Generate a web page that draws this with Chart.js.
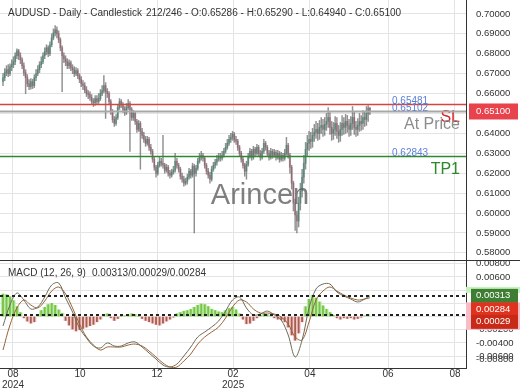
<!DOCTYPE html>
<html>
<head>
<meta charset="utf-8">
<script src="https://cdn.jsdelivr.net/npm/chart.js@4.4.1/dist/chart.umd.min.js"></script>
<style>
  html, body { margin: 0; padding: 0; background: #fff; }
  #wrap { position: relative; width: 520px; height: 390px; }
  #price { position: absolute; left: 0; top: 0; }
  #macd { position: absolute; left: 0; top: 261px; }
</style>
</head>
<body>
<div id="wrap">
  <canvas id="price" width="520" height="261"></canvas>
  <canvas id="macd" width="520" height="129"></canvas>
</div>
<script>
// daily AUDUSD candles
const opens = [
  0.6660,0.6680,0.6705,0.6720,0.6700,0.6735,0.6745,0.6760,0.6790,0.6815,
  0.6790,0.6770,0.6740,0.6705,0.6680,0.6650,0.6635,0.6660,0.6640,0.6680,
  0.6700,0.6720,0.6745,0.6760,0.6790,0.6810,0.6830,0.6800,0.6845,0.6880,
  0.6905,0.6920,0.6900,0.6870,0.6830,0.6790,0.6775,0.6760,0.6740,0.6755,
  0.6730,0.6720,0.6700,0.6715,0.6690,0.6670,0.6650,0.6640,0.6620,0.6600,
  0.6595,0.6580,0.6560,0.6555,0.6575,0.6560,0.6575,0.6600,0.6615,0.6640,
  0.6610,0.6600,0.6560,0.6510,0.6470,0.6450,0.6480,0.6530,0.6560,0.6545,
  0.6520,0.6505,0.6530,0.6550,0.6520,0.6480,0.6500,0.6460,0.6420,0.6450,
  0.6410,0.6390,0.6370,0.6350,0.6370,0.6330,0.6310,0.6270,0.6230,0.6200,
  0.6240,0.6260,0.6250,0.6240,0.6215,0.6230,0.6200,0.6190,0.6205,0.6215,
  0.6260,0.6240,0.6220,0.6185,0.6170,0.6150,0.6160,0.6180,0.6210,0.6190,
  0.6235,0.6200,0.6225,0.6260,0.6280,0.6290,0.6275,0.6240,0.6210,0.6190,
  0.6170,0.6220,0.6240,0.6255,0.6270,0.6285,0.6275,0.6290,0.6310,0.6330,
  0.6350,0.6370,0.6380,0.6395,0.6370,0.6360,0.6330,0.6300,0.6270,0.6240,
  0.6210,0.6245,0.6285,0.6310,0.6280,0.6320,0.6300,0.6330,0.6300,0.6280,
  0.6310,0.6350,0.6330,0.6300,0.6280,0.6310,0.6290,0.6305,0.6280,0.6300,
  0.6270,0.6290,0.6275,0.6300,0.6340,0.6290,0.6230,0.6150,0.6050,0.5990,
  0.5960,0.6050,0.6110,0.6180,0.6250,0.6320,0.6350,0.6370,0.6360,0.6390,
  0.6405,0.6420,0.6400,0.6430,0.6440,0.6420,0.6445,0.6460,0.6480,0.6430,
  0.6400,0.6420,0.6450,0.6410,0.6390,0.6420,0.6450,0.6430,0.6460,0.6440,
  0.6420,0.6450,0.6480,0.6430,0.6420,0.6440,0.6460,0.6450,0.6480,0.6470,
  0.6500,0.65286
];
const highs = [
  0.6700,0.6725,0.6740,0.6745,0.6750,0.6770,0.6785,0.6805,0.6825,0.6822,
  0.6805,0.6780,0.6755,0.6720,0.6695,0.6670,0.6675,0.6672,0.6695,0.6720,
  0.6740,0.6760,0.6785,0.6805,0.6830,0.6845,0.6840,0.6860,0.6900,0.6925,
  0.6942,0.6935,0.6915,0.6880,0.6840,0.6805,0.6790,0.6775,0.6770,0.6765,
  0.6745,0.6735,0.6730,0.6725,0.6700,0.6685,0.6665,0.6655,0.6635,0.6615,
  0.6610,0.6595,0.6575,0.6590,0.6590,0.6600,0.6620,0.6640,0.6690,0.6655,
  0.6625,0.6610,0.6570,0.6520,0.6485,0.6495,0.6545,0.6575,0.6570,0.6555,
  0.6535,0.6550,0.6570,0.6560,0.6530,0.6515,0.6510,0.6470,0.6465,0.6460,
  0.6425,0.6405,0.6385,0.6385,0.6380,0.6345,0.6320,0.6280,0.6240,0.6255,
  0.6280,0.6275,0.6390,0.6250,0.6245,0.6240,0.6215,0.6220,0.6235,0.6300,
  0.6275,0.6250,0.6230,0.6200,0.6185,0.6175,0.6195,0.6225,0.6220,0.6250,
  0.6245,0.6240,0.6275,0.6300,0.6310,0.6300,0.6285,0.6250,0.6225,0.6205,
  0.6235,0.6255,0.6270,0.6290,0.6300,0.6300,0.6310,0.6325,0.6350,0.6370,
  0.6390,0.6400,0.6410,0.6405,0.6385,0.6370,0.6340,0.6310,0.6280,0.6250,
  0.6260,0.6300,0.6325,0.6320,0.6335,0.6330,0.6345,0.6340,0.6315,0.6325,
  0.6370,0.6360,0.6340,0.6315,0.6325,0.6320,0.6320,0.6315,0.6315,0.6310,
  0.6305,0.6300,0.6320,0.6380,0.6350,0.6300,0.6240,0.6160,0.6070,0.6010,
  0.6080,0.6150,0.6220,0.6290,0.6355,0.6390,0.6410,0.6405,0.6425,0.6445,
  0.6460,0.6450,0.6465,0.6480,0.6470,0.6480,0.6500,0.6530,0.6505,0.6460,
  0.6455,0.6485,0.6480,0.6440,0.6455,0.6490,0.6480,0.6495,0.6490,0.6470,
  0.6485,0.6535,0.6510,0.6460,0.6475,0.6500,0.6490,0.6515,0.6510,0.6535,
  0.6540,0.65290
];
const lows = [
  0.6640,0.6665,0.6690,0.6685,0.6690,0.6715,0.6730,0.6745,0.6775,0.6770,
  0.6750,0.6725,0.6690,0.6600,0.6635,0.6620,0.6622,0.6625,0.6630,0.6665,
  0.6690,0.6705,0.6730,0.6750,0.6775,0.6795,0.6785,0.6790,0.6835,0.6870,
  0.6890,0.6880,0.6855,0.6815,0.6610,0.6755,0.6740,0.6725,0.6725,0.6715,
  0.6700,0.6685,0.6690,0.6675,0.6655,0.6635,0.6620,0.6605,0.6585,0.6575,
  0.6565,0.6545,0.6535,0.6540,0.6545,0.6550,0.6565,0.6590,0.6605,0.6475,
  0.6580,0.6545,0.6495,0.6455,0.6435,0.6440,0.6470,0.6520,0.6530,0.6505,
  0.6490,0.6495,0.6520,0.6310,0.6465,0.6465,0.6445,0.6405,0.6410,0.6220,
  0.6375,0.6355,0.6335,0.6340,0.6315,0.6295,0.6255,0.6215,0.6180,0.6190,
  0.6230,0.6235,0.6225,0.6200,0.6205,0.6185,0.6175,0.6180,0.6195,0.6205,
  0.6225,0.6205,0.6170,0.6155,0.6135,0.6140,0.6145,0.6170,0.6175,0.6180,
  0.5900,0.6185,0.6215,0.6250,0.6265,0.6260,0.6225,0.6195,0.6175,0.6150,
  0.6160,0.6210,0.6225,0.6240,0.6260,0.6260,0.6265,0.6280,0.6300,0.6320,
  0.6340,0.6355,0.6365,0.6355,0.6345,0.6315,0.6285,0.6255,0.6225,0.6185,
  0.6170,0.6235,0.6275,0.6265,0.6270,0.6285,0.6290,0.6285,0.6265,0.6270,
  0.6300,0.6315,0.6285,0.6265,0.6270,0.6275,0.6280,0.6265,0.6270,0.6255,
  0.6260,0.6260,0.6265,0.6290,0.6275,0.6200,0.6120,0.6010,0.5913,0.5900,
  0.5930,0.6015,0.6080,0.6150,0.6220,0.6285,0.6315,0.6325,0.6330,0.6360,
  0.6375,0.6365,0.6370,0.6400,0.6385,0.6390,0.6415,0.6430,0.6395,0.6365,
  0.6370,0.6390,0.6375,0.6355,0.6360,0.6390,0.6395,0.6400,0.6405,0.6385,
  0.6390,0.6420,0.6395,0.6385,0.6390,0.6410,0.6415,0.6420,0.6435,0.6440,
  0.6460,0.64940
];
const closes = [
  0.6680,0.6705,0.6720,0.6700,0.6735,0.6745,0.6760,0.6790,0.6815,0.6790,
  0.6770,0.6740,0.6705,0.6680,0.6650,0.6635,0.6660,0.6640,0.6680,0.6700,
  0.6720,0.6745,0.6760,0.6790,0.6810,0.6830,0.6800,0.6845,0.6880,0.6905,
  0.6920,0.6900,0.6870,0.6830,0.6790,0.6775,0.6760,0.6740,0.6755,0.6730,
  0.6720,0.6700,0.6715,0.6690,0.6670,0.6650,0.6640,0.6620,0.6600,0.6595,
  0.6580,0.6560,0.6555,0.6575,0.6560,0.6575,0.6600,0.6615,0.6640,0.6610,
  0.6600,0.6560,0.6510,0.6470,0.6450,0.6480,0.6530,0.6560,0.6545,0.6520,
  0.6505,0.6530,0.6550,0.6520,0.6480,0.6500,0.6460,0.6420,0.6450,0.6410,
  0.6390,0.6370,0.6350,0.6370,0.6330,0.6310,0.6270,0.6230,0.6200,0.6240,
  0.6260,0.6250,0.6240,0.6215,0.6230,0.6200,0.6190,0.6205,0.6215,0.6260,
  0.6240,0.6220,0.6185,0.6170,0.6150,0.6160,0.6180,0.6210,0.6190,0.6235,
  0.6200,0.6225,0.6260,0.6280,0.6290,0.6275,0.6240,0.6210,0.6190,0.6170,
  0.6220,0.6240,0.6255,0.6270,0.6285,0.6275,0.6290,0.6310,0.6330,0.6350,
  0.6370,0.6380,0.6395,0.6370,0.6360,0.6330,0.6300,0.6270,0.6240,0.6210,
  0.6245,0.6285,0.6310,0.6280,0.6320,0.6300,0.6330,0.6300,0.6280,0.6310,
  0.6350,0.6330,0.6300,0.6280,0.6310,0.6290,0.6305,0.6280,0.6300,0.6270,
  0.6290,0.6275,0.6300,0.6340,0.6290,0.6230,0.6150,0.6050,0.5990,0.5960,
  0.6050,0.6110,0.6180,0.6250,0.6320,0.6350,0.6370,0.6360,0.6390,0.6405,
  0.6420,0.6400,0.6430,0.6440,0.6420,0.6445,0.6460,0.6480,0.6430,0.6400,
  0.6420,0.6450,0.6410,0.6390,0.6420,0.6450,0.6430,0.6460,0.6440,0.6420,
  0.6450,0.6480,0.6430,0.6420,0.6440,0.6460,0.6450,0.6480,0.6470,0.6500,
  0.6525,0.65100
];

// MACD (12, 26, 9), one reading every 4th bar (last one is the final bar)
const macdLine = [
  -0.00144,0.00174,0.00356,0.00250,0.00114,0.00144,0.00295,0.00477,0.00508,0.00280,
  0.00068,-0.00174,-0.00326,-0.00447,-0.00477,-0.00400,-0.00447,-0.00447,-0.00400,-0.00386,
  -0.00462,-0.00553,-0.00644,-0.00735,-0.00765,-0.00720,-0.00598,-0.00462,-0.00310,-0.00235,
  -0.00159,-0.00068,0.00083,0.00250,0.00295,0.00129,0.00023,0.00038,0.00083,0.00023,
  -0.00053,-0.00280,-0.00614,-0.00356,0.00129,0.00417,0.00492,0.00492,0.00371,0.00311,
  0.00265,0.00220,0.00265,0.00313
];
const signalLine = [
  -0.00508,-0.00129,0.00129,0.00250,0.00174,0.00129,0.00235,0.00386,0.00447,0.00341,
  0.00129,-0.00114,-0.00310,-0.00432,-0.00508,-0.00462,-0.00462,-0.00462,-0.00432,-0.00417,
  -0.00447,-0.00523,-0.00614,-0.00705,-0.00765,-0.00765,-0.00674,-0.00568,-0.00417,-0.00310,
  -0.00235,-0.00159,-0.00023,0.00144,0.00250,0.00220,0.00114,0.00053,0.00053,0.00038,
  -0.00008,-0.00114,-0.00310,-0.00356,-0.00083,0.00250,0.00386,0.00447,0.00386,0.00326,
  0.00280,0.00250,0.00265,0.00284
];
// histogram, one reading every 2nd bar
const histogram = [
  0.0034,0.0033,0.0030,0.0024,0.0015,0.0006,-0.0002,-0.0007,-0.0010,-0.0008,
  0.0003,0.0009,0.0014,0.0018,0.0020,0.0017,0.0010,0.0005,-0.0006,-0.0013,
  -0.0019,-0.0022,-0.0020,-0.0018,-0.0016,-0.0014,-0.0012,-0.0008,-0.0004,0.0003,
  0.0004,-0.0002,-0.0006,-0.0003,0.0000,0.0001,0.0002,0.0004,0.0003,0.0000,
  -0.0003,-0.0006,-0.0008,-0.0010,-0.0012,-0.0013,-0.0010,-0.0007,-0.0004,-0.0001,
  0.0004,0.0006,0.0008,0.0009,0.0011,0.0014,0.0017,0.0019,0.0018,0.0015,
  0.0011,0.0009,0.0007,0.0006,0.0009,0.0012,0.0014,0.0010,0.0004,-0.0004,
  -0.0011,-0.0010,-0.0006,-0.0002,0.0002,0.0004,0.0003,0.0001,-0.0002,-0.0004,
  -0.0005,-0.0008,-0.0016,-0.0028,-0.0036,-0.0025,-0.0008,0.0015,0.0026,0.0032,
  0.0028,0.0022,0.0016,0.0011,0.0006,0.0002,-0.0002,-0.0004,-0.0002,-0.0003,
  -0.0002,-0.0004,-0.0003,-0.0001,0.0001,0.0003
];
const macdNow = 0.00313, histNow = 0.00029, signalNow = 0.00284;

// axis ticks
const priceTicks = [0.58,0.59,0.60,0.61,0.62,0.63,0.64,0.65,0.66,0.67,0.68,0.69,0.70];
const macdTicks = [-0.006,-0.004,-0.002,0,0.002,0.004,0.006,0.008];
const monthTicks = [5.75, 44.3, 88.6, 132.3, 176.5, 221.4, 259.9];   // bar index of each month label
const monthLabels = [['08','2024'],'10','12',['02','2025'],'04','06','08'];

// trade levels
const levelValues = [0.65481, 0.65102, 0.62843];
const levelNames = ['SL', 'At Price', 'TP1'];

const FONT = "'Liberation Sans', Arial, sans-serif";
Chart.defaults.font.family = FONT;
Chart.defaults.font.size = 10;
Chart.defaults.color = '#333';

const X_MIN = -1.725, X_MAX = 266.25;
const GRID = '#e4e4e4';
const bars = closes.map((_, i) => i);

const xAxis = (showLabels) => ({
  type: 'linear', min: X_MIN, max: X_MAX, offset: false,
  afterBuildTicks: s => { s.ticks = monthTicks.map(v => ({ value: v })); },
  afterFit: s => { s.paddingLeft = 0; s.paddingRight = 0; if (showLabels) s.height = 22; },
  ticks: { display: showLabels, autoSkip: false, maxRotation: 0, padding: 1,
           font: { size: 10, lineHeight: 1.05 },
           callback: (v, i) => monthLabels[i] },
  grid: { color: GRID, drawTicks: false, offset: false },
  border: { display: showLabels, color: '#333' }
});

const yAxis = (min, max, ticks) => ({
  position: 'right', min, max,
  afterBuildTicks: s => { s.ticks = ticks.map(v => ({ value: v })); },
  afterFit: s => { s.width = 54; s.paddingTop = 0; s.paddingBottom = 0; },
  ticks: { padding: 10, autoSkip: false, font: { size: 9.5 }, callback: v => v.toFixed(5) },
  grid: { color: GRID, drawTicks: false },
  border: { color: '#333' }
});

const pricePlugin = {
  id: 'priceOverlay',
  afterDatasetsDraw(chart) {
    const { ctx, chartArea: a, scales: { y } } = chart;
    ctx.save();
    ctx.font = `29px ${FONT}`;
    ctx.fillStyle = 'rgba(95,95,95,0.8)';
    ctx.textAlign = 'center';
    ctx.textBaseline = 'middle';
    ctx.fillText('Arincen', 260, 196);

    const lineColors = ['#d9433d', '#a8a8a8', '#2f8a2f'];
    const lineWidths = [1.5, 2, 1.5];
    const nameColors = ['#d8262b', '#8c8c8c', '#2a8a2a'];
    levelValues.forEach((v, k) => {
      const py = Math.round(y.getPixelForValue(v)) + 0.5;
      ctx.strokeStyle = lineColors[k];
      ctx.lineWidth = lineWidths[k];
      ctx.beginPath(); ctx.moveTo(a.left, py); ctx.lineTo(a.right, py); ctx.stroke();
      ctx.font = `10px ${FONT}`;
      ctx.fillStyle = '#5b7fd6';
      ctx.textAlign = 'left';
      ctx.textBaseline = 'alphabetic';
      ctx.fillText(v.toFixed(5), a.right - 74, py - 1);
      ctx.font = `16px ${FONT}`;
      ctx.fillStyle = nameColors[k];
      ctx.textAlign = 'right';
      ctx.textBaseline = 'middle';
      ctx.fillText(levelNames[k], a.right - 6, py + 13.5);
    });
    ctx.restore();
  },
  afterDraw(chart) {
    const { ctx, chartArea: a, scales: { y } } = chart;
    ctx.save();
    ctx.strokeStyle = '#333';
    ctx.lineWidth = 1;
    ctx.beginPath(); ctx.moveTo(0, a.bottom - 0.5); ctx.lineTo(chart.width, a.bottom - 0.5); ctx.stroke();

    // partly hidden label of the next price step above the top edge
    ctx.fillStyle = '#333';
    ctx.font = `9.5px ${FONT}`;
    ctx.textAlign = 'left';
    ctx.textBaseline = 'middle';
    ctx.fillText('0.71000', a.right + 10, y.getPixelForValue(0.71));

    const last = closes.at(-1);
    const py = y.getPixelForValue(last);
    ctx.fillStyle = '#e8434d';
    ctx.fillRect(a.right + 3, py - 8, 49, 16);
    ctx.fillStyle = '#fff';
    ctx.fillText(last.toFixed(5), a.right + 10, py);

    ctx.fillStyle = '#333';
    ctx.font = `10px ${FONT}`;
    ctx.fillText('AUDUSD - Daily - Candlestick', 8, 13);
    ctx.fillText(closes.length + '/246 - O:' + opens.at(-1).toFixed(5) + ' - H:' + highs.at(-1).toFixed(5) +
                 ' - L:' + lows.at(-1).toFixed(5) + ' - C:' + last.toFixed(5), 146, 13);
    ctx.restore();
  }
};

new Chart(document.getElementById('price'), {
  type: 'bar',
  data: {
    datasets: [
      { data: bars.map(i => ({ x: i, y: [opens[i], closes[i]] })),
        backgroundColor: bars.map(i => closes[i] >= opens[i] ? 'rgba(100,196,170,0.75)' : 'rgba(226,146,168,0.75)'),
        barThickness: 1.5, grouped: false, order: 2 },
      { data: bars.map(i => ({ x: i, y: [lows[i], highs[i]] })),
        backgroundColor: 'rgba(70,70,70,0.6)', barThickness: 0.8, grouped: false, order: 1 }
    ]
  },
  options: {
    responsive: false, animation: false,
    layout: { padding: 0 },
    plugins: { legend: { display: false }, tooltip: { enabled: false } },
    scales: { x: xAxis(false), y: yAxis(0.5759, 0.7070, priceTicks) }
  },
  plugins: [pricePlugin]
});

const macdPlugin = {
  id: 'macdOverlay',
  afterDatasetsDraw(chart) {
    const { ctx, chartArea: a, scales: { y } } = chart;
    ctx.save();
    ctx.strokeStyle = '#222';
    ctx.lineWidth = 2;
    ctx.setLineDash([3, 3]);
    [macdNow, histNow].forEach(v => {
      const py = Math.round(y.getPixelForValue(v));
      ctx.beginPath(); ctx.moveTo(a.left, py); ctx.lineTo(a.right, py); ctx.stroke();
    });
    ctx.restore();
  },
  afterDraw(chart) {
    const { ctx, chartArea: a, scales: { y } } = chart;
    ctx.save();
    ctx.font = `10px ${FONT}`;
    ctx.fillStyle = '#333';
    ctx.textBaseline = 'middle';
    ctx.fillText('MACD (12, 26, 9)', 8, 12);
    ctx.fillText([macdNow, histNow, signalNow].map(v => v.toFixed(5)).join('/'), 92, 12);
    ctx.font = `9.5px ${FONT}`;
    ctx.fillText('-0.00800', a.right + 10, y.getPixelForValue(-0.006) + 3);

    const gy = y.getPixelForValue(macdNow);
    const r1 = gy + 13.5;
    const r2 = Math.max(y.getPixelForValue(histNow), r1 + 12.5);
    ctx.fillStyle = '#c6f2bf';
    ctx.fillRect(a.right, gy - 9, 54, 6);
    ctx.fillStyle = '#f8bcc8';
    ctx.fillRect(a.right, r1 - 7, 54, r2 - r1 + 15);
    const boxes = [[gy, '#3f7d33', macdNow], [r1, '#e0331f', signalNow], [r2, '#c92a17', histNow]];
    boxes.forEach(([cy, col, v]) => {
      ctx.fillStyle = col;
      ctx.fillRect(a.right + 5, cy - 7, 47, 14);
      ctx.fillStyle = '#fff';
      ctx.fillText(v.toFixed(5), a.right + 10, cy);
    });
    ctx.restore();
  }
};

const macdBars = macdLine.map((_, k) => Math.min(k * 4, closes.length - 1));
const histBars = histogram.map((_, k) => k * 2);

new Chart(document.getElementById('macd'), {
  type: 'bar',
  data: {
    datasets: [
      { type: 'line', data: macdBars.map((x, k) => ({ x, y: macdLine[k] })),
        borderColor: '#6b6b5a', borderWidth: 1, pointRadius: 0, tension: 0.35, order: 1 },
      { type: 'line', data: macdBars.map((x, k) => ({ x, y: signalLine[k] })),
        borderColor: '#9a6236', borderWidth: 1, pointRadius: 0, tension: 0.35, order: 2 },
      { data: histBars.map((x, k) => ({ x, y: histogram[k] })),
        backgroundColor: histogram.map(v => v >= 0 ? '#7fbf4a' : '#a5604c'),
        barThickness: 1.2, grouped: false, order: 3 },
      { data: histBars.map((x, k) => ({ x, y: histogram[k] })),
        backgroundColor: histogram.map(v => v >= 0 ? '#b4f0a6' : '#f8cbd3'),
        barThickness: 3.6, grouped: false, order: 4 }
    ]
  },
  options: {
    responsive: false, animation: false,
    layout: { padding: 0 },
    plugins: { legend: { display: false }, tooltip: { enabled: false } },
    scales: { x: xAxis(true), y: yAxis(-0.0078, 0.00841, macdTicks) }
  },
  plugins: [macdPlugin]
});
</script>
</body>
</html>
